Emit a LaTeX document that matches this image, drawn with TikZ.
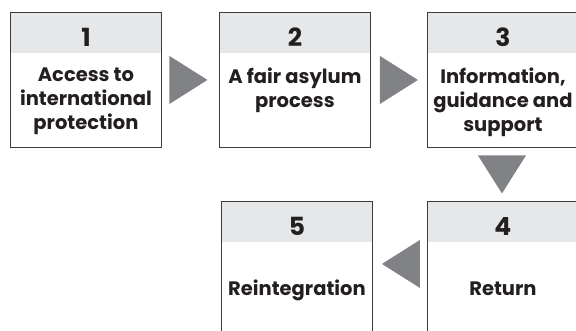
\documentclass[tikz,border=0pt]{standalone}
\usepackage{fontspec}
\setmainfont{Poppins}
\usetikzlibrary{calc,positioning}
\definecolor{headgray}{HTML}{E6E7E8}
\definecolor{arrowgray}{HTML}{808285}
\definecolor{linegray}{HTML}{3C3C3C}
\definecolor{inkgray}{HTML}{231F20}

\begin{document}
\begin{tikzpicture}[x=1pt,y=-1pt,line join=miter,
  box/.style={draw=linegray,line width=0.9pt,minimum width=151pt,minimum height=135pt,
    inner sep=0pt,anchor=north west,
    path picture={\fill[headgray] (path picture bounding box.north west)
      rectangle ([yshift=-41pt]path picture bounding box.north east);}},
  num/.style={font=\bfseries\fontsize{25}{25}\selectfont,text=inkgray,anchor=base,inner sep=0pt},
  txt/.style={font=\bfseries\fontsize{19.5}{24}\selectfont,text=inkgray,align=center,inner sep=0pt,anchor=north},
  tri/.style={fill=arrowgray}]
\useasboundingbox (0,0) rectangle (576,331);
% boxes
\node[box] (b1) at (10,12) {};
\node[box] (b2) at (219,12) {};
\node[box] (b3) at (427,12) {};
\node[box] (b4) at (427,201) {};
\node[box] (b5) at (221,201) {};
% numbers
\node[num] (n1) at ($(b1.north)+(0,35)$) {1};
\node[num] (n2) at ($(b2.north)+(0,35)$) {2};
\node[num] (n3) at ($(b3.north)+(0,35)$) {3};
\node[num] (n4) at ($(b4.north)+(0,35)$) {4};
\node[num] (n5) at ($(b5.north)+(0,35)$) {5};
% texts
\node[txt] (t1) at ($(b1.north)+(0,56)$) {Access to\\international\\protection};
\node[txt] (t2) at ($(b2.north)+(0,56)$) {A fair asylum\\process};
\node[txt] (t3) at ($(b3.north)+(0,56)$) {Information,\\guidance and\\support};
\node[txt,anchor=base] (t4) at ($(b4.north)+(0,94)$) {Return};
\node[txt,anchor=base] (t5) at ($(b5.north)+(0,94)$) {Reintegration};
% arrows
\fill[tri] ($(b1.east)!0.5!(b2.west)+(-2,0)$) ++(-19,-24) -- ++(38,24) -- ++(-38,24) -- cycle;
\fill[tri] ($(b2.east)!0.5!(b3.west)$) ++(-19,-24) -- ++(38,24) -- ++(-38,24) -- cycle;
\fill[tri] ($(b3.south)!0.5!(b4.north)+(-1,0)$) ++(-24,-19) -- ++(48,0) -- ++(-24,38) -- cycle;
\fill[tri] ($(b5.east)!0.5!(b4.west)+(1,-5)$) ++(19,-24) -- ++(-38,24) -- ++(38,24) -- cycle;
\end{tikzpicture}
\end{document}
